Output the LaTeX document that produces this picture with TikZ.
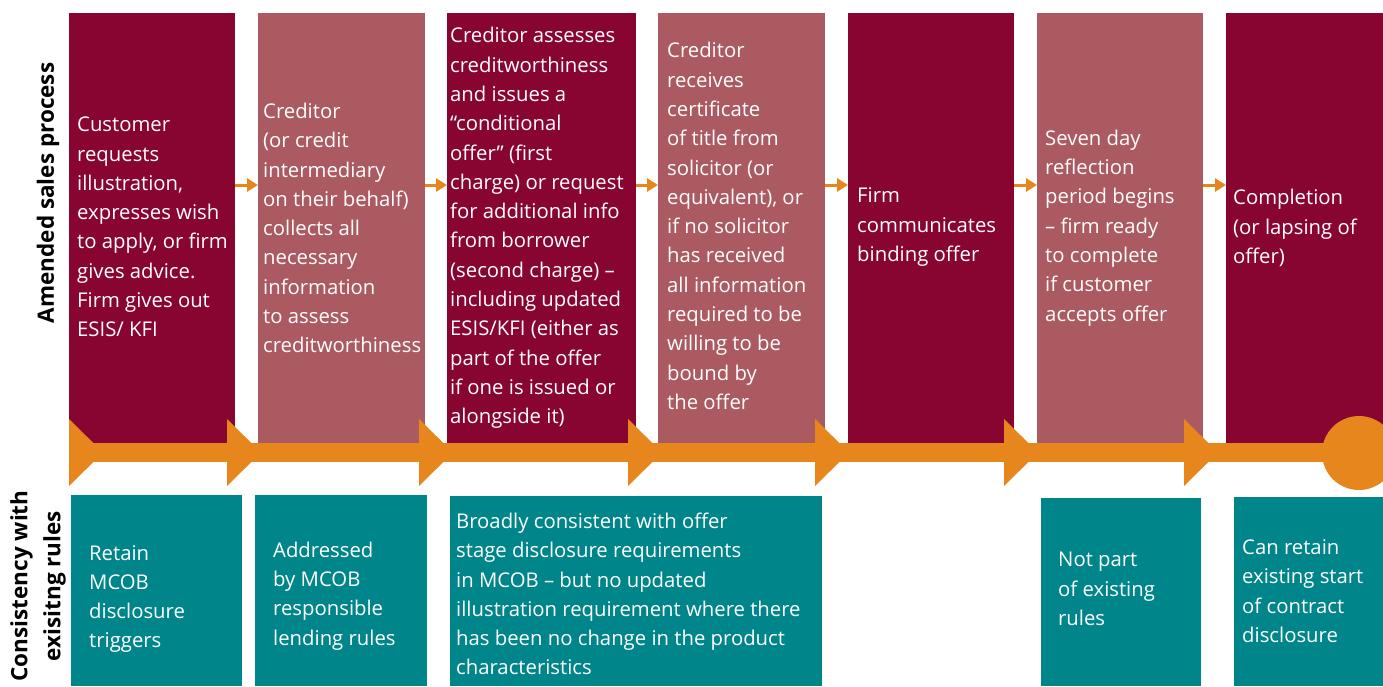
\documentclass[tikz,border=0pt]{standalone}
\usepackage{fontspec}
\usetikzlibrary{arrows.meta}
\setmainfont{Open Sans}
\definecolor{maroon}{HTML}{880532}
\definecolor{rose}{HTML}{AB5A62}
\definecolor{teal}{HTML}{00868A}
\definecolor{orng}{HTML}{E8861E}
\begin{document}
\begin{tikzpicture}[x=1pt,y=-1pt,
  txt/.style={anchor=west,align=left,text=white,font=\fontsize{20.3}{29.3}\selectfont,inner sep=0pt},
  lbl/.style={rotate=90,align=center,font=\bfseries\fontsize{22.5}{33}\selectfont,inner sep=0pt},
  smallarr/.style={orng,line width=3pt,-{Triangle[length=11pt,width=13pt]}},
]
\useasboundingbox (0,0) rectangle (1383,686);
% top boxes
\fill[maroon] (69,13) rectangle (235,443);
\fill[rose] (258,13) rectangle (425,444);
\fill[maroon] (447,13) rectangle (636,443);
\fill[rose] (658,13) rectangle (825,445);
\fill[maroon] (848,13) rectangle (1014,443);
\fill[rose] (1037,13) rectangle (1203,443);
\fill[maroon] (1226,13) rectangle (1383,443);
% coordinates for small arrows
\coordinate (a1) at (235,185); \coordinate (b1) at (258,185);
\coordinate (a2) at (425,185); \coordinate (b2) at (447,185);
\coordinate (a3) at (636,185); \coordinate (b3) at (658,185);
\coordinate (a4) at (825,185); \coordinate (b4) at (848,185);
\coordinate (a5) at (1014,185); \coordinate (b5) at (1037,185);
\coordinate (a6) at (1203,185); \coordinate (b6) at (1226,185);
\foreach \i in {1,...,6} {\draw[smallarr] (a\i) -- (b\i);}
% timeline
\fill[orng] (69,443) rectangle (1359,462);
\foreach \L in {69,227,419,628,815,1004,1184} {
  \fill[orng] (\L,419) -- (\L+34,452.5) -- (\L,486) -- cycle;
}
\fill[orng] (1359,453) circle (37);
% bottom boxes
\fill[teal] (71,495) rectangle (242,686);
\fill[teal] (255,495) rectangle (427,686);
\fill[teal] (450,496) rectangle (822,686);
\fill[teal] (1041,498) rectangle (1201,686);
\fill[teal] (1234,497) rectangle (1383,686);
% top texts
\node[txt] (t1) at (77,227) {Customer\\requests\\illustration,\\expresses wish\\to apply, or firm\\gives advice.\\Firm gives out\\ESIS/ KFI};
\node[txt] (t2) at (263,228) {Creditor\\(or credit\\intermediary\\on their behalf)\\collects all\\necessary\\information\\to assess\\creditworthiness};
\node[txt] (t3) at (450,228) {Creditor assesses\\creditworthiness\\and issues a\\“conditional\\offer” (first\\charge) or request\\for additional info\\from borrower\\(second charge) –\\including updated\\ESIS/KFI (either as\\part of the offer\\if one is issued or\\alongside it)};
\node[txt] (t4) at (667,226) {Creditor\\receives\\certificate\\of title from\\solicitor (or\\equivalent), or\\if no solicitor\\has received\\all information\\required to be\\willing to be\\bound by\\the offer};
\node[txt] (t5) at (857,227) {Firm\\communicates\\binding offer};
\node[txt] (t6) at (1045,228) {Seven day\\reflection\\period begins\\– firm ready\\to complete\\if customer\\accepts offer};
\node[txt] (t7) at (1233,228) {Completion\\(or lapsing of\\offer)};
% bottom texts
\node[txt] (u1) at (89,599) {Retain\\MCOB\\disclosure\\triggers};
\node[txt] (u2) at (273,596) {Addressed\\by MCOB\\responsible\\lending rules};
\node[txt] (u3) at (456,594) {Broadly consistent with offer\\stage disclosure requirements\\in MCOB – but no updated\\illustration requirement where there\\has been no change in the product\\characteristics};
\node[txt] (u4) at (1058,589) {Not part\\of existing\\rules};
\node[txt] (u5) at (1242,591) {Can retain\\existing start\\of contract\\disclosure};
% side labels
\node[lbl] (l1) at (48,193) {Amended sales process};
\node[lbl] (l2) at (38,586) {Consistency with\\exisitng rules};
\end{tikzpicture}
\end{document}
